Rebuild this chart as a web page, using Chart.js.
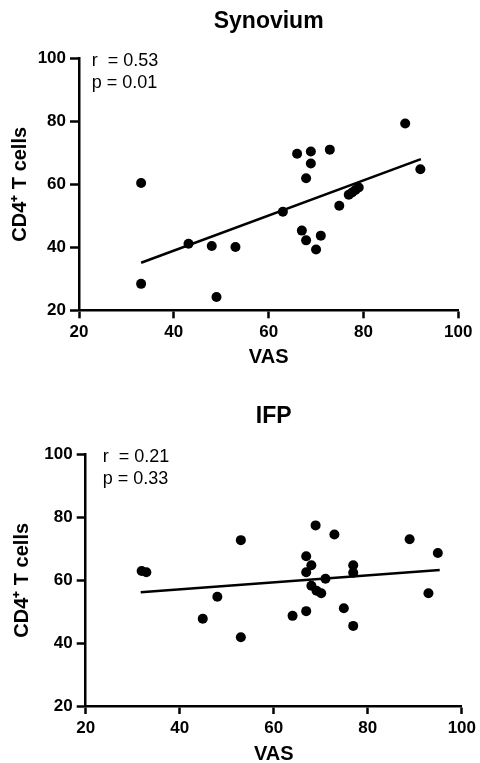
<!DOCTYPE html>
<html><head><meta charset="utf-8">
<script src="https://cdn.jsdelivr.net/npm/chart.js@4.4.1/dist/chart.umd.min.js"></script>
<style>
html,body{margin:0;padding:0;background:#fff;overflow:hidden;width:480px;height:763px;}
canvas{position:absolute;left:0;}
#c1{top:0;}
#c2{top:380px;}
</style></head><body>
<canvas id="c1" width="480" height="380"></canvas>
<canvas id="c2" width="480" height="383"></canvas>
<script>
// ---- data ----
const axisMin = 20, axisMax = 100, axisStep = 20;

const synTitle = 'Synovium';
const synVAS = [33.1, 33.1, 43.1, 48.0, 49.0, 53.0, 63.0, 66.0, 67.0, 67.9, 67.9, 68.9, 68.9, 70.0, 71.0, 72.9, 74.9, 76.9, 77.6, 78.3, 79.0, 88.8, 92.0];
const synCD4 = [60.4, 28.4, 41.1, 40.4, 24.2, 40.1, 51.3, 69.7, 45.3, 61.9, 42.2, 70.4, 66.6, 39.3, 43.7, 71.0, 53.2, 56.7, 57.4, 58.2, 59.0, 79.3, 64.8];
const synFitX = [33.1, 92.1];
const synFitY = [35.1, 68.0];
const synStats = ['r  = 0.53', 'p = 0.01'];

const ifpTitle = 'IFP';
const ifpVAS = [31.9, 32.9, 44.9, 48.0, 53.0, 53.0, 64.0, 66.9, 66.9, 66.9, 68.0, 68.0, 68.9, 69.1, 70.1, 71.0, 72.9, 74.9, 76.9, 76.9, 76.9, 88.9, 92.9, 94.9];
const ifpCD4 = [63.0, 62.6, 47.8, 54.8, 72.8, 41.9, 48.7, 67.7, 62.6, 50.2, 64.8, 58.3, 77.5, 56.7, 55.9, 60.5, 74.6, 51.1, 64.8, 62.4, 45.5, 73.1, 55.9, 68.7];
const ifpFitX = [31.7, 95.3];
const ifpFitY = [56.2, 63.3];
const ifpStats = ['r  = 0.21', 'p = 0.33'];

const xTitle = 'VAS';
const yTitle = 'CD4\u207A T cells';

// ---- drawing ----
const FONT = "'Liberation Sans', Arial, Helvetica, sans-serif";

const statsPlugin = {
  id: 'stats',
  afterDatasetsDraw(chart, args, opts) {
    const ctx = chart.ctx, a = chart.chartArea;
    ctx.save();
    ctx.fillStyle = '#000';
    ctx.font = '18px ' + FONT;
    ctx.textAlign = 'left';
    ctx.textBaseline = 'alphabetic';
    opts.lines.forEach((t, i) => {
      ctx.fillText(t, a.left + opts.dx, a.top + opts.dy + i * opts.lh);
    });
    ctx.restore();
  }
};

function makeChart(id, g, title, xs, ys, fx, fy, stats) {
  const pts = xs.map((x, i) => ({x: x, y: ys[i]}));
  const fit = fx.map((x, i) => ({x: x, y: fy[i]}));
  const scaleBase = (pos) => ({
    type: 'linear', position: pos,
    min: axisMin, max: axisMax,
    ticks: {stepSize: axisStep, color: '#000', font: {family: FONT, size: 17, weight: 'bold'}, padding: 4},
    grid: {display: true, drawOnChartArea: false, drawTicks: true, color: '#000', tickWidth: 2.5, tickLength: pos === 'left' ? 9 : 8},
    border: {display: true, color: '#000', width: 2.5},
  });
  const xs_ = scaleBase('bottom');
  xs_.title = {display: true, text: xTitle, color: '#000', font: {family: FONT, size: 20, weight: 'bold'}, padding: {top: 0, bottom: g.xtPad}};
  xs_.afterFit = (s) => { s.height = g.xH; };
  const ys_ = scaleBase('left');
  ys_.title = {display: true, text: yTitle, color: '#000', font: {family: FONT, size: 20, weight: 'bold'}, padding: {top: g.ytPad, bottom: 0}};
  ys_.afterFit = (s) => { s.width = g.left; };

  return new Chart(document.getElementById(id), {
    type: 'scatter',
    data: {datasets: [
      {data: pts, backgroundColor: '#000', borderColor: '#000', pointRadius: 5, pointBorderWidth: 0, pointHoverRadius: 5},
      {data: fit, showLine: true, borderColor: '#000', borderWidth: 2.5, pointRadius: 0, fill: false}
    ]},
    options: {
      responsive: false, animation: false, devicePixelRatio: 1,
      layout: {padding: {left: 0, right: g.right, top: 0, bottom: 0}},
      plugins: {
        legend: {display: false}, tooltip: {enabled: false},
        title: {display: true, text: title, fullSize: false, color: '#000',
                font: {family: FONT, size: 23, weight: 'bold'}, padding: {top: g.tPadTop, bottom: g.tPadBot}},
        stats: {lines: stats, dx: g.sdx, dy: 7.5, lh: 22}
      },
      scales: {x: xs_, y: ys_}
    },
    plugins: [statsPlugin]
  });
}

makeChart('c1', {left: 79, right: 21.7, xH: 69.7, xtPad: 10.5, ytPad: 8, tPadTop: 7.7, tPadBot: 23, sdx: 12.7},
  synTitle, synVAS, synCD4, synFitX, synFitY, synStats);
makeChart('c2', {left: 85.7, right: 16.7, xH: 57, xtPad: -3.2, ytPad: 10, tPadTop: 22.5, tPadBot: 24.6, sdx: 17},
  ifpTitle, ifpVAS, ifpCD4, ifpFitX, ifpFitY, ifpStats);
</script>
</body></html>
